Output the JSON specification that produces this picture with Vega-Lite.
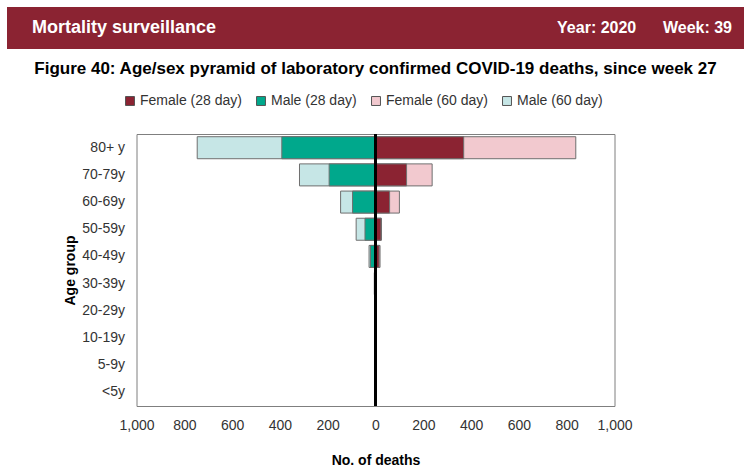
{
  "$schema": "https://vega.github.io/schema/vega-lite/v6.json",
  "padding": {"left": 7, "top": 7, "right": 0, "bottom": 0},
  "background": "white",
  "bounds": "flush",
  "center": true,
  "spacing": 85,
  "config": {"font": "Liberation Sans", "view": {"stroke": null}},
  "vconcat": [
    {
      "width": 737,
      "height": 42,
      "view": {"fill": "#8B2332", "stroke": null},
      "data": {"values": [
        {"text": "Mortality surveillance", "side": "left"},
        {"text": "Year: 2020\u00a0\u00a0\u00a0\u00a0\u00a0\u00a0Week: 39", "side": "right"}
      ]},
      "encoding": {
        "x": {"field": "side", "type": "nominal", "scale": {"type": "point", "domain": ["left", "right"], "padding": 0}, "axis": null},
        "text": {"field": "text"}
      },
      "layer": [
        {"transform": [{"filter": "datum.side === 'left'"}], "mark": {"type": "text", "align": "left", "baseline": "middle", "dx": 25, "fontSize": 18, "fontWeight": "bold", "color": "white"}},
        {"transform": [{"filter": "datum.side === 'right'"}], "mark": {"type": "text", "align": "right", "baseline": "middle", "dx": -12, "fontSize": 16, "fontWeight": "bold", "color": "white"}}
      ]
    },
    {
      "width": 478,
      "height": 272,
      "title": {"text": "Figure 40: Age/sex pyramid of laboratory confirmed COVID-19 deaths, since week 27", "fontSize": 17, "fontWeight": "bold", "color": "black", "anchor": "middle", "offset": 55},
      "view": {"stroke": "#7f7f7f", "strokeWidth": 1},
      "layer": [
        {
          "data": {"values": [
            {"age": "80+ y", "series": "Male (60 day)", "deaths": -746},
            {"age": "80+ y", "series": "Female (60 day)", "deaths": 838},
            {"age": "70-79y", "series": "Male (60 day)", "deaths": -318},
            {"age": "70-79y", "series": "Female (60 day)", "deaths": 237},
            {"age": "60-69y", "series": "Male (60 day)", "deaths": -146},
            {"age": "60-69y", "series": "Female (60 day)", "deaths": 100},
            {"age": "50-59y", "series": "Male (60 day)", "deaths": -81},
            {"age": "50-59y", "series": "Female (60 day)", "deaths": 25},
            {"age": "40-49y", "series": "Male (60 day)", "deaths": -27},
            {"age": "40-49y", "series": "Female (60 day)", "deaths": 19},
            {"age": "30-39y", "series": "Male (60 day)", "deaths": -5},
            {"age": "30-39y", "series": "Female (60 day)", "deaths": 3},
            {"age": "80+ y", "series": "Male (28 day)", "deaths": -392},
            {"age": "80+ y", "series": "Female (28 day)", "deaths": 369},
            {"age": "70-79y", "series": "Male (28 day)", "deaths": -194},
            {"age": "70-79y", "series": "Female (28 day)", "deaths": 130},
            {"age": "60-69y", "series": "Male (28 day)", "deaths": -96},
            {"age": "60-69y", "series": "Female (28 day)", "deaths": 59},
            {"age": "50-59y", "series": "Male (28 day)", "deaths": -44},
            {"age": "50-59y", "series": "Female (28 day)", "deaths": 23},
            {"age": "40-49y", "series": "Male (28 day)", "deaths": -21},
            {"age": "40-49y", "series": "Female (28 day)", "deaths": 15},
            {"age": "30-39y", "series": "Male (28 day)", "deaths": -4},
            {"age": "30-39y", "series": "Female (28 day)", "deaths": 2}
          ]},
          "mark": {"type": "bar", "stroke": "#6f6f6f", "strokeWidth": 1},
          "encoding": {
            "y": {
              "field": "age", "type": "nominal",
              "scale": {"domain": ["80+ y", "70-79y", "60-69y", "50-59y", "40-49y", "30-39y", "20-29y", "10-19y", "5-9y", "<5y"], "paddingInner": 0.19, "paddingOuter": 0.1},
              "axis": {"title": "Age group", "titleFontSize": 14, "titleFontWeight": "bold", "titleColor": "black", "labelFontSize": 14, "labelColor": "#333", "ticks": false, "domain": false, "labelPadding": 12, "titlePadding": 4}
            },
            "x": {
              "field": "deaths", "type": "quantitative", "stack": null,
              "scale": {"domain": [-1000, 1000], "nice": false},
              "axis": {"title": "No. of deaths", "values": [-1000, -800, -600, -400, -200, 0, 200, 400, 600, 800, 1000], "labelExpr": "format(abs(datum.value), ',')", "grid": false, "ticks": false, "domain": false, "labelFlush": false, "labelOverlap": false, "labelFontSize": 14, "labelColor": "#333", "labelPadding": 12, "titlePadding": 21, "titleFontSize": 14, "titleFontWeight": "bold", "titleColor": "black"}
            },
            "color": {
              "field": "series", "type": "nominal",
              "scale": {"domain": ["Female (28 day)", "Male (28 day)", "Female (60 day)", "Male (60 day)"], "range": ["#8B2332", "#00A88C", "#F2C9CF", "#C6E6E6"]},
              "legend": {"title": null, "orient": "none", "legendX": 116, "legendY": 87, "direction": "horizontal", "symbolType": "square", "symbolSize": 80, "symbolStrokeColor": "#555", "symbolStrokeWidth": 1, "labelFontSize": 14, "labelColor": "#333", "columnPadding": 12, "labelOffset": 3}
            }
          }
        },
        {
          "data": {"values": [{"zero": 0}]},
          "mark": {"type": "rule", "color": "black", "strokeWidth": 3},
          "encoding": {"x": {"field": "zero", "type": "quantitative"}}
        }
      ]
    }
  ]
}
